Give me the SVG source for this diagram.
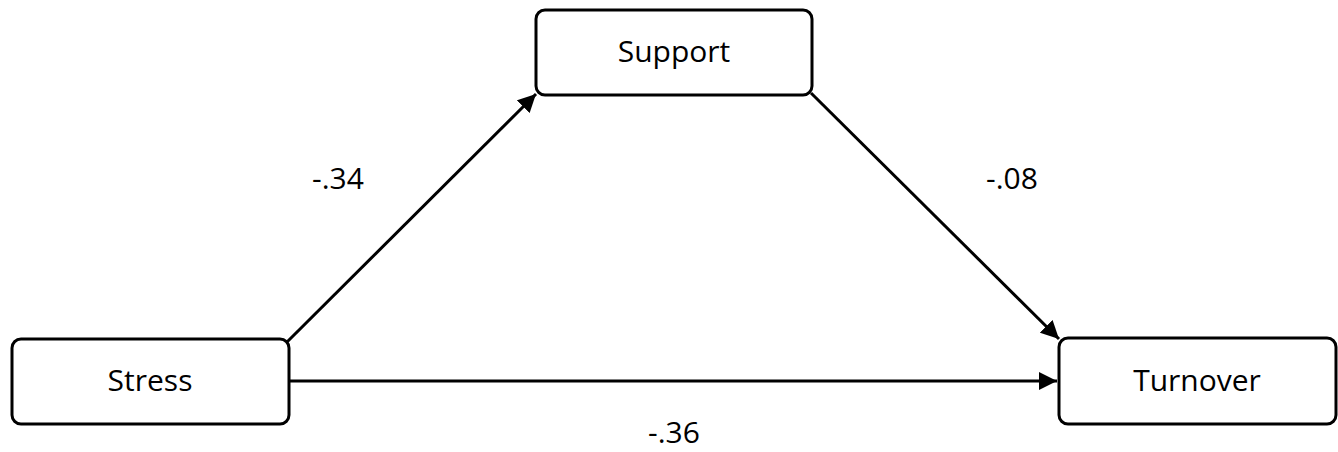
<svg xmlns="http://www.w3.org/2000/svg" width="1338" height="452" viewBox="0 0 1338 452">
<style>
.node{fill:#fff;stroke:#000;stroke-width:3}
.lbl{font-family:"Open Sans","Noto Sans",sans-serif;font-size:30px;fill:#000;text-anchor:middle}
.edge{stroke:#000;stroke-width:3;fill:none}
</style>
<defs>
<marker id="ah" viewBox="0 0 10 10" refX="10" refY="5" markerWidth="6" markerHeight="6" markerUnits="strokeWidth" orient="auto">
<path d="M0,0 L10,5 L0,10 z" fill="#000"/>
</marker>
</defs>
<g id="connectors">
<line class="edge" x1="287" y1="342" x2="536" y2="94" marker-end="url(#ah)"/>
<line class="edge" x1="811" y1="93" x2="1059" y2="339" marker-end="url(#ah)"/>
<line class="edge" x1="289" y1="381" x2="1057" y2="381" marker-end="url(#ah)"/>
<text class="lbl" x="338" y="189">-.34</text>
<text class="lbl" x="1012" y="189">-.08</text>
<text class="lbl" x="674" y="443">-.36</text>
</g>
<g id="support">
<rect class="node" x="536" y="10" width="276" height="85" rx="9"/>
<text class="lbl" x="674" y="62">Support</text>
</g>
<g id="stress">
<rect class="node" x="12" y="339" width="277" height="85" rx="9"/>
<text class="lbl" x="150" y="391">Stress</text>
</g>
<g id="turnover">
<rect class="node" x="1059" y="338" width="277" height="86" rx="9"/>
<text class="lbl" x="1197" y="391">Turnover</text>
</g>
</svg>
